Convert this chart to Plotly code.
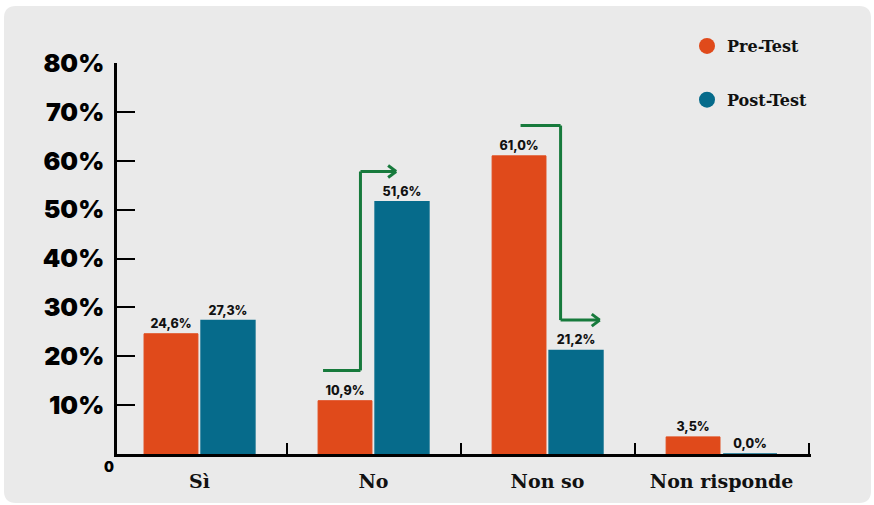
import plotly.graph_objects as go

# Survey answers before and after the test
categories = ["Sì", "No", "Non so", "Non risponde"]
pre_test = [24.6, 10.9, 61.0, 3.5]
post_test = [27.3, 51.6, 21.2, 0.0]
y_ticks = [10, 20, 30, 40, 50, 60, 70, 80]
y_tick_labels = [f"{v}%" for v in y_ticks]

ORANGE = "#E04A1B"
BLUE = "#066B8B"
GREEN = "#177A3C"
PANEL = "#EAEAEA"
NUM_FONT = "Inter"
SLAB_FONT = "DejaVu Serif"

W, H = 874, 505
M = dict(l=117, r=63, t=63, b=51)
PW = W - M["l"] - M["r"]
PH = H - M["t"] - M["b"]
X_RANGE = [-0.474, 3.514]
Y_RANGE = [0, 80]


def fmt(v):
    return f"{v:.1f}".replace(".", ",") + "%"


label_font = dict(family=NUM_FONT, size=12.5, color="#111", weight=800)

fig = go.Figure()
fig.add_trace(go.Bar(
    x=categories, y=pre_test, name="Pre-Test", showlegend=False,
    marker=dict(color=ORANGE, line=dict(color=ORANGE, width=1)),
    text=[fmt(v) for v in pre_test], textposition="outside",
    textfont=label_font, cliponaxis=False, hoverinfo="skip",
))
fig.add_trace(go.Bar(
    x=categories, y=post_test, name="Post-Test", showlegend=False,
    marker=dict(color=BLUE, line=dict(color=BLUE, width=1.5)),
    text=[fmt(v) for v in post_test], textposition="outside",
    textfont=label_font, cliponaxis=False, hoverinfo="skip",
))

# Round legend markers
for name, col, grp in [("Pre-Test", ORANGE, "a"), ("Post-Test", BLUE, "b")]:
    fig.add_trace(go.Scatter(
        x=[None], y=[None], mode="markers", name=name, legendgroup=grp,
        marker=dict(color=col, size=18, symbol="circle"),
    ))

# Rounded background panel (pixel -> paper conversion)
def px_x(p):
    return (p - M["l"]) / PW


def px_y(p):
    return 1 - (p - M["t"]) / PH


x0, x1, y0, y1, r = 4, 871, 6, 503, 12
path = (
    f"M {px_x(x0 + r)} {px_y(y0)} L {px_x(x1 - r)} {px_y(y0)} "
    f"Q {px_x(x1)} {px_y(y0)} {px_x(x1)} {px_y(y0 + r)} "
    f"L {px_x(x1)} {px_y(y1 - r)} "
    f"Q {px_x(x1)} {px_y(y1)} {px_x(x1 - r)} {px_y(y1)} "
    f"L {px_x(x0 + r)} {px_y(y1)} "
    f"Q {px_x(x0)} {px_y(y1)} {px_x(x0)} {px_y(y1 - r)} "
    f"L {px_x(x0)} {px_y(y0 + r)} "
    f"Q {px_x(x0)} {px_y(y0)} {px_x(x0 + r)} {px_y(y0)} Z"
)
fig.add_shape(type="path", path=path, xref="paper", yref="paper",
              fillcolor=PANEL, line=dict(width=0), layer="below")

# Elbow arrows showing the shift between pre and post answers
ux = PW / (X_RANGE[1] - X_RANGE[0])
uy = PH / (Y_RANGE[1] - Y_RANGE[0])
head_dx, head_dy = 8 / ux, 6 / uy
lift = 6.2
line_style = dict(color=GREEN, width=3)
arrow_specs = [(1, -0.29, -0.075, 0.13), (2, -0.155, 0.075, 0.30)]
for idx, a, b, c in arrow_specs:
    ys = pre_test[idx] + lift
    ye = post_test[idx] + lift
    segs = [
        (idx + a, ys, idx + b, ys),
        (idx + b, ys, idx + b, ye),
        (idx + b, ye, idx + c, ye),
        (idx + c - head_dx, ye + head_dy, idx + c, ye),
        (idx + c - head_dx, ye - head_dy, idx + c, ye),
    ]
    for sx0, sy0, sx1, sy1 in segs:
        fig.add_shape(type="line", xref="x", yref="y", x0=sx0, y0=sy0,
                      x1=sx1, y1=sy1, line=line_style, layer="above")

# Zero label at the origin
fig.add_annotation(x=0, y=0, xref="paper", yref="y", text="0",
                   showarrow=False, xanchor="right", yanchor="top",
                   xshift=-1, yshift=-2,
                   font=dict(family=NUM_FONT, size=14, color="#000", weight=900))

fig.update_layout(
    width=W, height=H, margin=M,
    paper_bgcolor="white", plot_bgcolor=PANEL,
    barmode="group", bargap=0.345, bargroupgap=0.055,
    showlegend=True,
    legend=dict(x=px_x(687), y=px_y(29), xanchor="left", yanchor="top",
                bgcolor="rgba(0,0,0,0)", tracegroupgap=30,
                font=dict(family=SLAB_FONT, size=16, color="#111", weight="bold"),
                traceorder="grouped"),
    xaxis=dict(
        type="category", range=X_RANGE, showgrid=False,
        showline=True, linecolor="#000", linewidth=2.5,
        ticks="inside", ticklen=11, tickwidth=2, tickcolor="#000",
        tickson="boundaries", ticklabelstandoff=8,
        tickfont=dict(family=SLAB_FONT, size=19, color="#111", weight="bold"),
    ),
    yaxis=dict(
        range=Y_RANGE, showgrid=False, zeroline=False,
        showline=True, linecolor="#000", linewidth=2.5,
        tickvals=y_ticks, ticktext=y_tick_labels,
        ticks="inside", ticklen=18, tickwidth=2, tickcolor="#000",
        ticklabelstandoff=5,
        tickfont=dict(family=NUM_FONT, size=25, color="#000", weight=900),
    ),
)

fig.write_html("out.html")
